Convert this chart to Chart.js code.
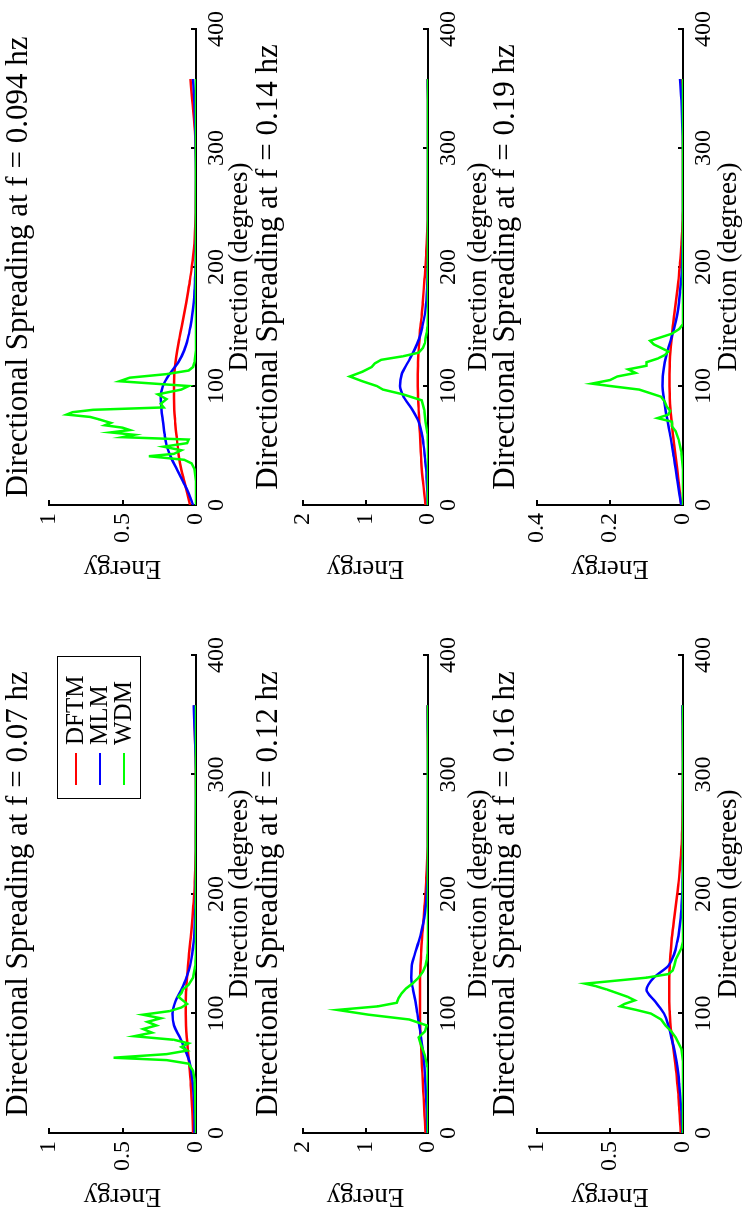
<!DOCTYPE html>
<html>
<head>
<meta charset="utf-8">
<script src="https://cdn.jsdelivr.net/npm/chart.js@4.4.0/dist/chart.umd.min.js"></script>
<style>
  html, body { margin: 0; padding: 0; background: #fff; overflow: hidden; }
  /* the figure is drawn landscape, then turned a quarter turn counter-clockwise */
  #figure { position: absolute; left: 0; top: 0; width: 1210px; height: 745px;
            transform-origin: 0 0; transform: translate(0, 1210px) rotate(-90deg); }
  #figure canvas { position: absolute; }
</style>
</head>
<body>
<div id="figure"></div>
<script>
const dirTicks = [0, 100, 200, 300, 400];
const seriesNames = ['DFTM', 'MLM', 'WDM'];
const seriesColors = ['#ff0000', '#0000ff', '#00ff00'];

// directions used by the smooth DFTM / MLM curves
const smoothDir = [0,10,20,30,40,50,60,70,80,90,100,110,120,130,140,150,160,170,180,190,200,210,220,230,240,250,280,310,340,358];

// f = 0.07 hz
const energyTicks07 = [0, 0.5, 1];
const dftm07 = [0.02,0.022,0.025,0.03,0.035,0.04,0.048,0.056,0.063,0.068,0.07,0.07,0.067,0.062,0.055,0.047,0.039,0.031,0.024,0.018,0.012,0.008,0.005,0.003,0.002,0.001,0,0.002,0.008,0.012];
const mlm07 = [0.01,0.01,0.012,0.015,0.02,0.03,0.045,0.075,0.11,0.15,0.16,0.14,0.1,0.065,0.04,0.025,0.016,0.01,0.006,0.004,0.002,0.001,0,0,0,0,0,0.002,0.01,0.015];
const wdm07Dir = [0,30,45,52,58,61,63,66,69,72,75,78,81,84,87,90,93,96,99,102,105,108,111,114,117,120,124,130,140,150,358];
const wdm07 = [0,0.005,0.01,0.02,0.05,0.2,0.56,0.2,0.06,0.1,0.05,0.15,0.42,0.3,0.36,0.27,0.33,0.24,0.36,0.18,0.1,0.06,0.09,0.12,0.1,0.09,0.05,0.02,0.005,0,0];

// f = 0.094 hz
const energyTicks094 = [0, 0.5, 1];
const dftm094 = [0.04,0.06,0.08,0.1,0.115,0.125,0.135,0.142,0.148,0.15,0.15,0.148,0.14,0.128,0.113,0.097,0.082,0.067,0.053,0.04,0.029,0.019,0.011,0.006,0.003,0.001,0,0.005,0.025,0.038];
const mlm094 = [0.02,0.05,0.09,0.13,0.17,0.2,0.215,0.225,0.235,0.24,0.225,0.18,0.12,0.08,0.055,0.038,0.025,0.016,0.01,0.006,0.003,0.002,0.001,0,0,0,0,0.003,0.012,0.02];
const wdm094Dir = [0,20,30,35,38,41,43,46,49,52,55,57,59,61,63,65,67,69,72,74,76,78,80,82,85,89,93,97,100,104,107,110,113,116,120,130,358];
const wdm094 = [0,0,0.01,0.03,0.08,0.32,0.15,0.1,0.22,0.06,0.05,0.5,0.42,0.58,0.45,0.5,0.62,0.58,0.66,0.72,0.88,0.84,0.7,0.22,0.24,0.2,0.26,0.1,0.05,0.52,0.45,0.2,0.05,0.02,0.01,0,0];

// f = 0.12 hz
const energyTicks12 = [0, 1, 2];
const dftm12 = [0.04,0.05,0.06,0.07,0.08,0.09,0.1,0.11,0.12,0.125,0.13,0.13,0.13,0.128,0.12,0.11,0.1,0.085,0.07,0.055,0.04,0.03,0.02,0.012,0.006,0.003,0,0,0.005,0.01];
const mlm12 = [0.01,0.015,0.02,0.03,0.04,0.05,0.065,0.085,0.11,0.14,0.17,0.2,0.24,0.27,0.26,0.21,0.15,0.1,0.06,0.035,0.02,0.01,0.005,0.002,0,0,0,0,0.003,0.005];
const wdm12Dir = [0,40,55,65,75,80,85,90,95,99,103,106,109,113,117,121,125,130,135,140,145,150,160,358];
const wdm12 = [0,0,0.01,0.05,0.12,0.15,0.05,0.02,0.3,0.95,1.45,0.8,0.5,0.47,0.42,0.35,0.25,0.15,0.08,0.04,0.02,0.01,0,0];

// f = 0.14 hz
const energyTicks14 = [0, 1, 2];
const dftm14 = [0.04,0.06,0.08,0.1,0.11,0.12,0.13,0.14,0.15,0.16,0.165,0.165,0.16,0.15,0.135,0.12,0.1,0.085,0.07,0.055,0.04,0.03,0.02,0.012,0.006,0.003,0,0,0.002,0.005];
const mlm14 = [0.005,0.01,0.02,0.03,0.05,0.07,0.1,0.15,0.25,0.38,0.45,0.42,0.32,0.22,0.14,0.09,0.05,0.03,0.018,0.01,0.005,0.002,0.001,0,0,0,0,0,0.002,0.004];
const wdm14Dir = [0,50,60,70,80,88,93,97,100,104,108,112,116,119,122,125,128,132,136,140,145,150,160,358];
const wdm14 = [0,0,0.01,0.04,0.06,0.1,0.4,0.72,0.82,1.05,1.25,1.05,0.9,0.85,0.75,0.4,0.15,0.08,0.05,0.04,0.02,0.01,0,0];

// f = 0.16 hz
const energyTicks16 = [0, 0.5, 1];
const dftm16 = [0.015,0.02,0.025,0.03,0.038,0.045,0.055,0.065,0.075,0.085,0.09,0.095,0.095,0.095,0.09,0.085,0.078,0.07,0.06,0.05,0.04,0.03,0.022,0.015,0.01,0.006,0.002,0,0.002,0.004];
const mlm16 = [0.005,0.008,0.012,0.018,0.025,0.033,0.045,0.06,0.08,0.1,0.13,0.19,0.25,0.2,0.1,0.06,0.04,0.025,0.015,0.01,0.006,0.003,0.002,0.001,0,0,0,0,0.002,0.004];
const wdm16Dir = [0,60,70,75,80,85,90,95,100,103,106,108,111,114,117,120,123,125,127,130,133,136,140,145,150,155,160,358];
const wdm16 = [0,0,0.01,0.03,0.05,0.08,0.12,0.15,0.22,0.32,0.43,0.4,0.33,0.38,0.45,0.52,0.6,0.67,0.5,0.25,0.1,0.07,0.06,0.05,0.03,0.01,0,0];

// f = 0.19 hz
const energyTicks19 = [0, 0.2, 0.4];
const dftm19 = [0.005,0.008,0.012,0.016,0.02,0.024,0.028,0.031,0.034,0.036,0.037,0.037,0.036,0.034,0.031,0.028,0.024,0.02,0.016,0.012,0.009,0.006,0.004,0.002,0.001,0,0,0,0.002,0.004];
const mlm19 = [0.005,0.01,0.015,0.02,0.025,0.03,0.036,0.042,0.048,0.053,0.056,0.055,0.05,0.042,0.032,0.023,0.016,0.011,0.008,0.005,0.003,0.002,0.001,0,0,0,0,0.001,0.004,0.008];
const wdm19Dir = [0,30,45,55,62,66,70,73,76,79,83,87,91,94,97,100,102,105,108,111,114,117,120,123,126,129,132,135,138,141,144,148,152,358];
const wdm19 = [0,0,0.005,0.012,0.02,0.03,0.03,0.07,0.04,0.035,0.045,0.05,0.06,0.09,0.12,0.2,0.25,0.2,0.18,0.13,0.15,0.1,0.1,0.07,0.05,0.04,0.06,0.08,0.09,0.06,0.03,0.01,0,0];

const plots = [
  { freq: '0.07',  col: 0, row: 0, ticks: energyTicks07,  dftm: dftm07,  mlm: mlm07,  wdmDir: wdm07Dir,  wdm: wdm07, legend: true },
  { freq: '0.094', col: 1, row: 0, ticks: energyTicks094, dftm: dftm094, mlm: mlm094, wdmDir: wdm094Dir, wdm: wdm094 },
  { freq: '0.12',  col: 0, row: 1, ticks: energyTicks12,  dftm: dftm12,  mlm: mlm12,  wdmDir: wdm12Dir,  wdm: wdm12 },
  { freq: '0.14',  col: 1, row: 1, ticks: energyTicks14,  dftm: dftm14,  mlm: mlm14,  wdmDir: wdm14Dir,  wdm: wdm14 },
  { freq: '0.16',  col: 0, row: 2, ticks: energyTicks16,  dftm: dftm16,  mlm: mlm16,  wdmDir: wdm16Dir,  wdm: wdm16 },
  { freq: '0.19',  col: 1, row: 2, ticks: energyTicks19,  dftm: dftm19,  mlm: mlm19,  wdmDir: wdm19Dir,  wdm: wdm19 },
];

// layout of the landscape figure (pixels)
const FONT = "'Liberation Serif', 'Times New Roman', serif";
const TITLE_SIZE = 31, LABEL_SIZE = 27, TICK_SIZE = 24;
const CANVAS_W = 605, CANVAS_H = 275;
const colLeft = [0, 605];
const colPad = [{ left: 0, right: 50 }, { left: 23, right: 28 }];
const Y_AXIS_W = 77;
const rowCanvasTop = [0, 240, 480];
const rowTitleMid = [18.5, 268.5, 506];
const rowPlotTop = [49, 303, 537];
const rowPlotBottom = [196, 428, 683];
const rowXLabelMid = [240, 479, 729];

const legendBox = {
  id: 'legendBox',
  afterDatasetsDraw(chart) {
    const { ctx, chartArea } = chart;
    const right = chartArea.right - 2, left = right - 142;
    const top = chartArea.top + 8, h = 83;
    ctx.save();
    ctx.fillStyle = '#fff';
    ctx.fillRect(left, top, right - left, h);
    ctx.strokeStyle = '#000';
    ctx.lineWidth = 1;
    ctx.strokeRect(left + 0.5, top + 0.5, right - left, h);
    ctx.font = '25px ' + FONT;
    ctx.textBaseline = 'middle';
    seriesNames.forEach((name, i) => {
      const y = top + 19 + i * 24;
      ctx.strokeStyle = seriesColors[i];
      ctx.lineWidth = 2;
      ctx.beginPath();
      ctx.moveTo(left + 14, y);
      ctx.lineTo(left + 46, y);
      ctx.stroke();
      ctx.fillStyle = '#000';
      ctx.fillText(name, left + 54, y);
    });
    ctx.restore();
  }
};

const fig = document.getElementById('figure');

plots.forEach(p => {
  const T = rowCanvasTop[p.row];
  const canvas = document.createElement('canvas');
  canvas.width = CANVAS_W;
  canvas.height = CANVAS_H;
  canvas.style.left = colLeft[p.col] + 'px';
  canvas.style.top = T + 'px';
  fig.appendChild(canvas);

  const titleLH = TITLE_SIZE * 1.2;
  const titlePadTop = Math.max(0, rowTitleMid[p.row] - T - titleLH / 2);
  const titlePadBottom = rowPlotTop[p.row] - T - titlePadTop - titleLH;
  const xScaleH = T + CANVAS_H - rowPlotBottom[p.row];
  const xTitlePadBottom = T + CANVAS_H - rowXLabelMid[p.row] - LABEL_SIZE * 0.6;

  const pts = (xs, ys) => xs.map((x, i) => ({ x: x, y: ys[i] }));
  const datasets = [
    { label: seriesNames[2], data: pts(p.wdmDir, p.wdm), borderColor: seriesColors[2], tension: 0 },
    { label: seriesNames[1], data: pts(smoothDir, p.mlm), borderColor: seriesColors[1], cubicInterpolationMode: 'monotone' },
    { label: seriesNames[0], data: pts(smoothDir, p.dftm), borderColor: seriesColors[0], cubicInterpolationMode: 'monotone' },
  ];
  datasets.forEach(d => { d.borderWidth = 2.5; d.pointRadius = 0; d.fill = false; });

  const axisCommon = {
    border: { display: true, color: '#000', width: 2 },
    grid: { drawOnChartArea: false, drawTicks: true, tickLength: -5, color: '#000', lineWidth: 2 },
  };

  new Chart(canvas, {
    type: 'line',
    data: { datasets },
    plugins: p.legend ? [legendBox] : [],
    options: {
      responsive: false,
      animation: false,
      devicePixelRatio: 1,
      layout: { padding: { left: colPad[p.col].left, right: colPad[p.col].right, top: 0, bottom: 0 } },
      plugins: {
        legend: { display: false },
        tooltip: { enabled: false },
        title: {
          display: true,
          fullSize: false,
          text: 'Directional Spreading at f = ' + p.freq + ' hz',
          color: '#000',
          font: { family: FONT, size: TITLE_SIZE, weight: 'normal' },
          padding: { top: titlePadTop, bottom: titlePadBottom }
        }
      },
      scales: {
        x: {
          ...axisCommon,
          type: 'linear',
          min: 0,
          max: 400,
          afterBuildTicks: s => { s.ticks = dirTicks.map(v => ({ value: v })); },
          afterFit: s => { s.height = xScaleH; },
          ticks: { padding: 11, color: '#000', maxRotation: 0, autoSkip: false,
                   font: { family: FONT, size: TICK_SIZE }, callback: v => String(v) },
          title: { display: true, text: 'Direction (degrees)', color: '#000',
                   font: { family: FONT, size: LABEL_SIZE }, padding: { top: 0, bottom: xTitlePadBottom } }
        },
        y: {
          ...axisCommon,
          type: 'linear',
          min: 0,
          max: p.ticks[p.ticks.length - 1],
          afterBuildTicks: s => { s.ticks = p.ticks.map(v => ({ value: v })); },
          afterFit: s => { s.width = Y_AXIS_W; },
          ticks: { padding: 13, color: '#000', autoSkip: false,
                   font: { family: FONT, size: TICK_SIZE }, callback: v => String(v) },
          title: { display: true, text: 'Energy', color: '#000',
                   font: { family: FONT, size: LABEL_SIZE, lineHeight: 1 }, padding: { top: 0, bottom: 0 } }
        }
      }
    }
  });
});
</script>
</body>
</html>
